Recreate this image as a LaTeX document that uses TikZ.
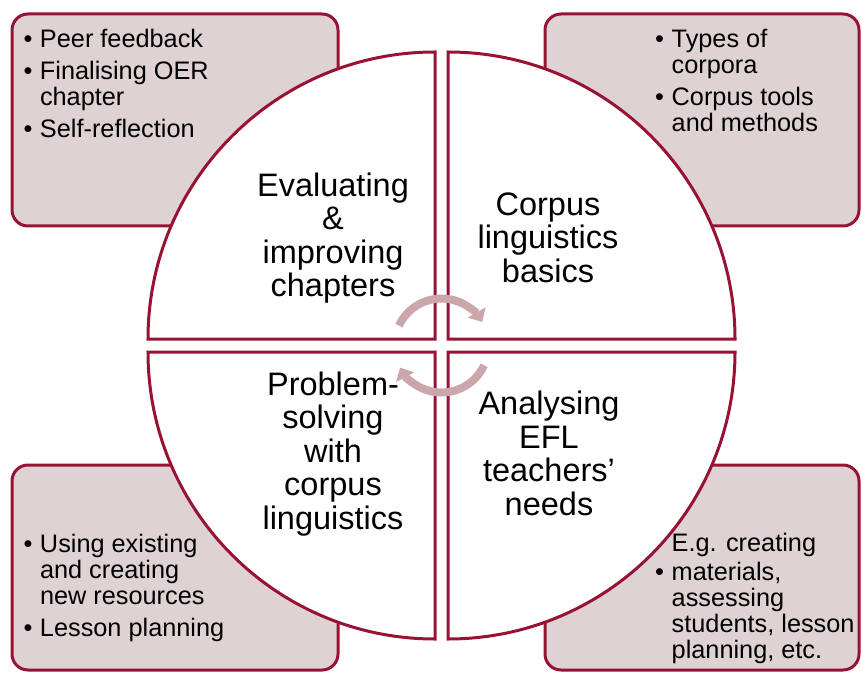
\documentclass[tikz,border=0pt]{standalone}
\usepackage{fontspec}
\setmainfont{Liberation Sans}
\usetikzlibrary{arrows.meta}
\definecolor{maroon}{RGB}{152,18,52}
\definecolor{boxfill}{RGB}{222,210,212}
\definecolor{arrowc}{RGB}{203,167,172}
\newcommand{\bl}{\makebox[16.5pt][l]{•}}
\newcommand{\ind}{\hspace*{16.5pt}}
\tikzset{
  cbox/.style={fill=boxfill, draw=maroon, line width=3pt, rounded corners=16pt},
  quad/.style={fill=white, draw=maroon, line width=3pt, line join=miter},
  lbl/.style={align=center, inner sep=0pt, font=\fontsize{32.5}{33.5}\selectfont},
  blist/.style={align=left, anchor=north west, inner sep=0pt, font=\fontsize{25.3}{26}\selectfont},
  cyc/.style={draw=arrowc, line width=8pt, -{Triangle[width=20pt,length=11pt]}}
}
\begin{document}
\begin{tikzpicture}[x=1pt,y=1pt]
\useasboundingbox (0,0) rectangle (861,673);
% corner boxes
\draw[cbox] (12,447) rectangle (338,659);
\draw[cbox] (545,447) rectangle (859,659);
\draw[cbox] (12,3) rectangle (338,208);
\draw[cbox] (545,3) rectangle (859,208);
% quadrants
\draw[quad] (435,334) -- (435,621) arc[start angle=90,end angle=180,radius=287] -- cycle;
\draw[quad] (448,334) -- (735,334) arc[start angle=0,end angle=90,radius=287] -- cycle;
\draw[quad] (435,321) -- (148,321) arc[start angle=180,end angle=270,radius=287] -- cycle;
\draw[quad] (448,321) -- (448,34) arc[start angle=270,end angle=360,radius=287] -- cycle;
% labels
\node[lbl] (evl) at (333,435) {Evaluating\\\&\\improving\\chapters};
\node[lbl] (cor) at (548,435.5) {Corpus\\linguistics\\basics};
\node[lbl] (pro) at (333,219) {Problem-\\solving\\with\\corpus\\linguistics};
\node[lbl] (ana) at (549,219.5) {Analysing\\EFL\\teachers’\\needs};
% cycle arrows
\coordinate (c) at (441.5,327.5);
\draw[cyc] ([shift={(155:47)}]c) arc[start angle=155,end angle=30,radius=47];
\draw[cyc] ([shift={(-25:47)}]c) arc[start angle=-25,end angle=-152,radius=47];
% bullet lists
\node[blist] (tl) at (23.3,644.5) {\bl Peer feedback\\[6pt]\bl Finalising OER\\\ind chapter\\[6pt]\bl Self-reflection};
\node[blist] (tr) at (655,644.5) {\bl Types of\\\ind corpora\\[6pt]\bl Corpus tools\\\ind and methods};
\node[blist] (bl) at (23.3,139) {\bl Using existing\\\ind and creating\\\ind new resources\\[6pt]\bl Lesson planning};
\node[blist] (br) at (655,140) {\ind E.g. creating\\[3pt]\bl materials,\\\ind assessing\\\ind students, lesson\\\ind planning, etc.};
\end{tikzpicture}
\end{document}
